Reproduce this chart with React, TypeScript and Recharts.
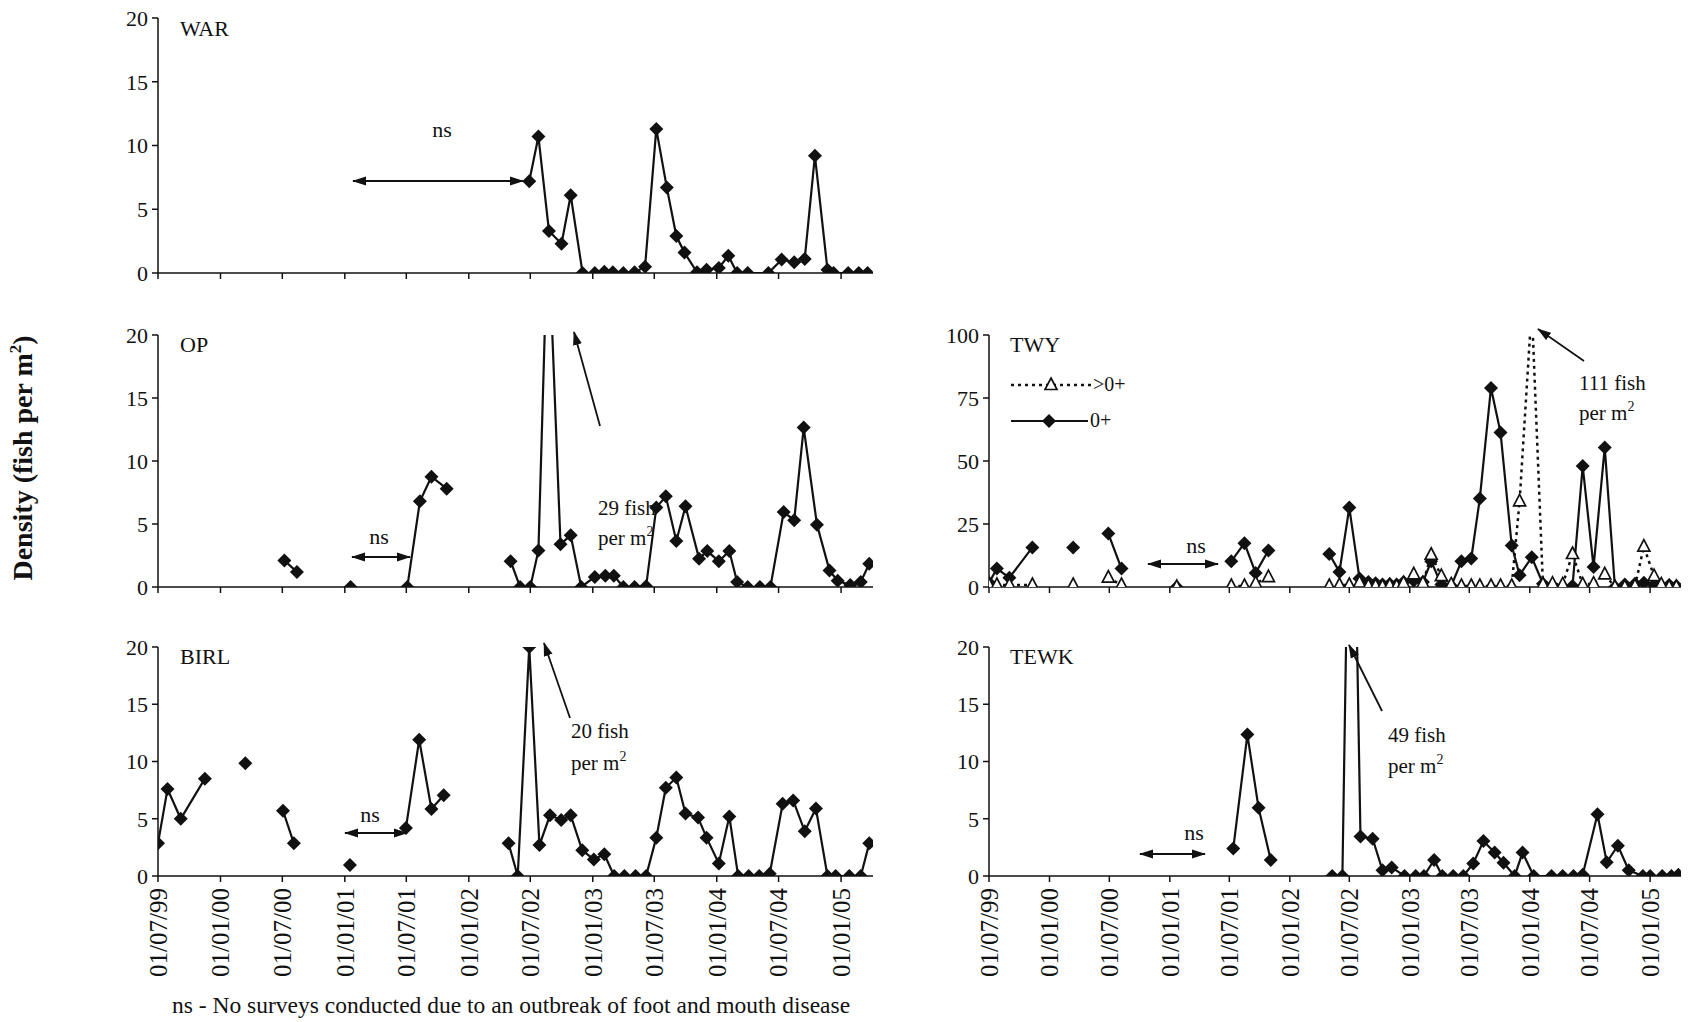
import React from 'react'
import { Line, LineChart, XAxis, YAxis } from 'recharts'

const FONT = 'Liberation Serif'
const DAY = 86400000
const toX = (d: string) => Date.parse(d) / DAY

const X_START = '1999-07-01'
const X_END = '2005-04-05'
const tickDates = [
  '1999-07-01', '2000-01-01', '2000-07-01', '2001-01-01', '2001-07-01', '2002-01-01',
  '2002-07-01', '2003-01-01', '2003-07-01', '2004-01-01', '2004-07-01', '2005-01-01',
]
const tickLabels = [
  '01/07/99', '01/01/00', '01/07/00', '01/01/01', '01/07/01', '01/01/02',
  '01/07/02', '01/01/03', '01/07/03', '01/01/04', '01/07/04', '01/01/05',
]
const smallTicks = [0, 5, 10, 15, 20]
const twyTicks = [0, 25, 50, 75, 100]

// null in a dates/values array = gap in the survey line
const warDates = [
  '2002-06-28', '2002-07-25', '2002-08-25', '2002-10-01', '2002-10-28', '2002-12-02', '2003-01-07',
  '2003-02-04', '2003-03-01', '2003-04-01', '2003-05-04', '2003-06-04', '2003-07-07', '2003-08-07',
  '2003-09-04', '2003-09-28', '2003-11-04', '2003-12-02', '2004-01-07', '2004-02-04', '2004-03-01',
  '2004-04-01', '2004-06-01', '2004-07-10', '2004-08-16', '2004-09-16', '2004-10-16', '2004-11-22',
  '2004-12-10', '2005-01-22', '2005-02-22', '2005-03-20',
]
const warValues = [
  7.2, 10.7, 3.3, 2.3, 6.1, 0, 0, 0.1, 0.05, 0, 0.05, 0.5, 11.3, 6.7, 2.9, 1.6, 0.05, 0.25, 0.4, 1.35,
  0, 0, 0, 1.05, 0.85, 1.1, 9.2, 0.25, 0, 0, 0, 0,
]

const opDates = [
  '2000-07-07', '2000-08-13', null, '2001-01-18', null, '2001-07-04', '2001-08-10', '2001-09-13',
  '2001-10-28', null, '2002-05-04', '2002-06-01', '2002-07-01', '2002-07-25', '2002-08-22', '2002-09-28',
  '2002-10-28', '2002-11-28', '2003-01-07', '2003-02-07', '2003-03-04', '2003-04-01', '2003-05-04',
  '2003-06-07', '2003-07-07', '2003-08-04', '2003-09-04', '2003-10-01', '2003-11-10', '2003-12-04',
  '2004-01-07', '2004-02-07', '2004-03-01', '2004-04-01', '2004-05-07', '2004-06-07', '2004-07-16',
  '2004-08-16', '2004-09-13', '2004-10-22', '2004-11-28', '2004-12-22', '2005-01-28', '2005-02-28',
  '2005-03-25',
]
const opValues = [
  2.1, 1.2, null, 0, null, 0, 6.8, 8.75, 7.8, null, 2.05, 0, 0, 2.9, 29, 3.4, 4.1, 0, 0.8, 0.9, 0.9, 0, 0,
  0.05, 6.3, 7.2, 3.65, 6.4, 2.25, 2.85, 2.05, 2.85, 0.4, 0, 0, 0, 5.95, 5.3, 12.65, 4.95, 1.3, 0.5, 0.15,
  0.4, 1.85,
]

const birlDates = [
  '1999-07-01', '1999-07-29', '1999-09-06', '1999-11-16', null, '2000-03-14', null, '2000-07-03',
  '2000-08-04', null, '2001-01-16', null, '2001-06-30', '2001-08-08', '2001-09-13', '2001-10-19', null,
  '2002-04-28', '2002-05-25', '2002-06-28', '2002-07-28', '2002-08-28', '2002-09-30', '2002-10-28',
  '2002-12-01', '2003-01-04', '2003-02-04', '2003-03-05', '2003-04-04', '2003-05-07', '2003-06-07',
  '2003-07-07', '2003-08-04', '2003-09-04', '2003-10-01', '2003-11-07', '2003-12-02', '2004-01-07',
  '2004-02-07', '2004-03-04', '2004-04-04', '2004-05-05', '2004-06-05', '2004-07-13', '2004-08-13',
  '2004-09-16', '2004-10-19', '2004-11-22', '2004-12-16', '2005-01-25', '2005-02-28', '2005-03-25',
]
const birlValues = [
  2.85, 7.6, 5.0, 8.5, null, 9.85, null, 5.7, 2.85, null, 0.95, null, 4.2, 11.9, 5.85, 7.05, null, 2.85, 0,
  20, 2.7, 5.3, 4.9, 5.3, 2.25, 1.45, 1.9, 0, 0, 0, 0, 3.35, 7.7, 8.6, 5.45, 5.1, 3.35, 1.1, 5.2, 0, 0, 0,
  0.2, 6.3, 6.6, 3.9, 5.9, 0, 0, 0, 0, 2.85,
]

const tewkDates = [
  '2001-07-13', '2001-08-25', '2001-09-28', '2001-11-04', null, '2002-05-10', '2002-06-10', '2002-07-07',
  '2002-08-04', '2002-09-10', '2002-10-10', '2002-11-07', '2002-12-16', '2003-01-19', '2003-02-13',
  '2003-03-16', '2003-04-10', '2003-05-13', '2003-06-13', '2003-07-13', '2003-08-13', '2003-09-16',
  '2003-10-13', '2003-11-16', '2003-12-10', '2004-01-13', '2004-03-07', '2004-04-10', '2004-05-13',
  '2004-06-10', '2004-07-25', '2004-08-22', '2004-09-25', '2004-10-28', '2004-12-10', '2005-01-01',
  '2005-02-07', '2005-03-07', '2005-03-28',
]
const tewkValues = [
  2.4, 12.35, 5.95, 1.4, null, 0, 0, 49, 3.45, 3.25, 0.5, 0.75, 0, 0, 0, 1.4, 0, 0, 0, 1.1, 3.05, 2.05,
  1.15, 0, 2.05, 0, 0, 0, 0, 0.1, 5.4, 1.2, 2.65, 0.5, 0, 0, 0, 0, 0.1,
]

const twyDates = [
  '1999-07-01', '1999-07-25', '1999-09-01', '1999-11-10', null, '2000-03-13', null, '2000-06-28',
  '2000-08-07', null, '2001-01-22', null, '2001-07-07', '2001-08-16', '2001-09-19', '2001-10-28', null,
  '2002-05-01', '2002-06-01', '2002-07-01', '2002-08-01', '2002-08-28', '2002-09-19', '2002-10-10',
  '2002-11-01', '2002-11-22', '2002-12-13', '2003-01-13', '2003-02-10', '2003-03-07', '2003-04-07',
  '2003-05-07', '2003-06-07', '2003-07-07', '2003-08-02', '2003-09-05', '2003-10-04', '2003-11-07',
  '2003-12-01', '2004-01-07', '2004-02-10', '2004-03-10', '2004-04-10', '2004-05-10', '2004-06-10',
  '2004-07-13', '2004-08-16', '2004-09-16', '2004-10-16', '2004-11-16', '2004-12-13', '2005-01-13',
  '2005-02-04', '2005-02-28', '2005-03-22',
]
const twyJuvenile = [
  1.7, 7.3, 3.7, 15.7, null, 15.7, null, 21.2, 7.3, null, 0, null, 10.2, 17.4, 5.6, 14.5, null, 13.1, 6.0,
  31.5, 3.4, 2.0, 1.5, 1.0, 1.2, 1.0, 2.0, 2.5, 2.0, 10.2, 1.0, 0.4, 10.2, 11.3, 35.1, 79, 61.3, 16.5, 4.7,
  11.8, 1.3, 0.4, 0, 0.4, 48, 7.9, 55.4, 0, 1.0, 1.3, 1.7, 0.8, 0, 0.8, 0.4,
]
const twyOlder = [
  0.8, 0.8, 0.8, 0.8, null, 0.8, null, 3.7, 0.8, null, 0, null, 0.4, 0.4, 1.5, 3.9, null, 0.4, 0.8, 0.8,
  1.7, 0.5, 0.4, 0.2, 0.6, 0.3, 1.5, 5.0, 1.5, 12.8, 4.3, 1.0, 0.4, 0.4, 0.4, 0.4, 0.4, 0.4, 34, 111, 1.0,
  1.3, 1.0, 13.1, 1.0, 1.3, 5.0, 0, 0, 0.4, 16, 4.3, 1.0, 0, 0,
]

function toXs(dates: (string | null)[]) {
  let prev = toX(X_START)
  return dates.map((d) => {
    if (d) prev = toX(d)
    return prev
  })
}

function rows(dates: (string | null)[], values: (number | null)[]) {
  const xs = toXs(dates)
  return xs.map((x, i) => ({ x, v: values[i] }))
}

const twyRows = toXs(twyDates).map((x, i) => ({ x, juv: twyJuvenile[i], older: twyOlder[i] }))

const Diamond = (p: any) => {
  if (p.cy == null || p.value == null) return <g key={`d${p.index}`} />
  const { cx, cy } = p
  return (
    <polygon
      key={`d${p.index}`}
      points={`${cx},${cy - 7} ${cx + 7},${cy} ${cx},${cy + 7} ${cx - 7},${cy}`}
      fill="#111"
    />
  )
}

const Triangle = (p: any) => {
  if (p.cy == null || p.value == null) return <g key={`t${p.index}`} />
  const { cx, cy } = p
  return (
    <polygon
      key={`t${p.index}`}
      points={`${cx},${cy - 7} ${cx + 6},${cy + 4.5} ${cx - 6},${cy + 4.5}`}
      fill="#fff"
      stroke="#111"
      strokeWidth={1.7}
    />
  )
}

const DateTick = (p: any) => {
  const { x, y, index } = p
  return (
    <text
      x={x}
      y={y}
      transform={`rotate(-90 ${x} ${y})`}
      dx={-3}
      dy="0.35em"
      textAnchor="end"
      style={{ fontFamily: FONT }}
      fontSize={25}
      fill="#111"
    >
      {tickLabels[index]}
    </text>
  )
}

const NoTick = () => <g />

interface PanelProps {
  plotLeft: number
  plotTop: number
  plotW: number
  plotH: number
  yMax: number
  yTicks: number[]
  labels: boolean
  data: any[]
  children: React.ReactNode
}

const TOPPAD = 18

function Panel({ plotLeft, plotTop, plotW, plotH, yMax, yTicks, labels, data, children }: PanelProps) {
  const yw = 70
  const xh = labels ? 110 : 12
  return (
    <div style={{ position: 'absolute', left: plotLeft - yw, top: plotTop - TOPPAD }}>
      <LineChart
        width={yw + plotW + 10}
        height={TOPPAD + plotH + xh}
        data={data}
        margin={{ top: TOPPAD, right: 10, left: 0, bottom: 0 }}
      >
        <XAxis
          type="number"
          dataKey="x"
          domain={[toX(X_START), toX(X_END)]}
          ticks={tickDates.map(toX)}
          allowDataOverflow
          height={xh}
          interval={0}
          tick={labels ? DateTick : NoTick}
          tickSize={6}
          tickMargin={3}
          axisLine={{ stroke: '#111', strokeWidth: 1.5 }}
          tickLine={{ stroke: '#111', strokeWidth: 1.5 }}
        />
        <YAxis
          type="number"
          domain={[0, yMax]}
          ticks={yTicks}
          allowDataOverflow
          width={yw}
          interval={0}
          tickSize={6}
          tickMargin={4}
          tick={{ fill: '#111', fontSize: 22, style: { fontFamily: FONT } }}
          axisLine={{ stroke: '#111', strokeWidth: 1.5 }}
          tickLine={{ stroke: '#111', strokeWidth: 1.5 }}
        />
        {children}
      </LineChart>
    </div>
  )
}

const solid = (key: string) => (
  <Line
    dataKey={key}
    stroke="#111"
    strokeWidth={2.2}
    dot={Diamond}
    activeDot={false}
    isAnimationActive={false}
    connectNulls={false}
  />
)

const LEFT = 158
const RIGHT = 989
const LW = 715
const RW = 692

function Overlay() {
  const t = { fontSize: 21, fill: '#111', style: { fontFamily: FONT } }
  const arrow = (x1: number, y1: number, x2: number, y2: number, both = true) => (
    <line
      x1={x1}
      y1={y1}
      x2={x2}
      y2={y2}
      stroke="#111"
      strokeWidth={1.8}
      markerEnd="url(#ah)"
      markerStart={both ? 'url(#ah)' : undefined}
    />
  )
  const perM = (x: number, y: number) => (
    <text x={x} y={y} {...t}>
      per m<tspan dy={-9} fontSize={14}>2</tspan>
    </text>
  )
  return (
    <svg
      width={1690}
      height={1022}
      style={{ position: 'absolute', left: 0, top: 0, pointerEvents: 'none' }}
    >
      <defs>
        <marker
          id="ah"
          markerWidth={14}
          markerHeight={10}
          refX={13}
          refY={5}
          orient="auto-start-reverse"
          markerUnits="userSpaceOnUse"
        >
          <path d="M0,0.5 L14,5 L0,9.5 z" fill="#111" />
        </marker>
      </defs>

      <text x={32} y={458} {...t} fontSize={28} fontWeight="bold" textAnchor="middle" transform="rotate(-90 32 458)">
        Density (fish per m<tspan dy={-11} fontSize={17}>2</tspan>
        <tspan dy={11}>)</tspan>
      </text>

      <text x={180} y={36} {...t} fontSize={22}>WAR</text>
      <text x={180} y={352} {...t} fontSize={22}>OP</text>
      <text x={180} y={664} {...t} fontSize={22}>BIRL</text>
      <text x={1010} y={352} {...t} fontSize={22}>TWY</text>
      <text x={1010} y={664} {...t} fontSize={22}>TEWK</text>

      <text x={442} y={137} {...t} fontSize={22} textAnchor="middle">ns</text>
      {arrow(353, 181, 523, 181)}

      <text x={379} y={544} {...t} fontSize={22} textAnchor="middle">ns</text>
      {arrow(352, 557, 410, 557)}
      <text x={598} y={515} {...t}>29 fish</text>
      {perM(598, 545)}
      {arrow(600, 426, 574, 332, false)}

      <text x={370} y={822} {...t} fontSize={22} textAnchor="middle">ns</text>
      {arrow(345, 833, 407, 833)}
      <text x={571} y={738} {...t}>20 fish</text>
      {perM(571, 770)}
      {arrow(570, 718, 544, 643, false)}

      <line x1={1011} y1={385} x2={1092} y2={385} stroke="#111" strokeWidth={2.5} strokeDasharray="3 4" />
      <polygon points="1051,378 1057,389.5 1045,389.5" fill="#fff" stroke="#111" strokeWidth={1.7} />
      <text x={1093} y={391} {...t} fontSize={20}>&gt;0+</text>
      <line x1={1011} y1={421} x2={1088} y2={421} stroke="#111" strokeWidth={2.2} />
      <polygon points="1049,414 1056,421 1049,428 1042,421" fill="#111" />
      <text x={1090} y={427} {...t} fontSize={20}>0+</text>

      <text x={1196} y={553} {...t} fontSize={22} textAnchor="middle">ns</text>
      {arrow(1148, 564, 1218, 564)}
      <text x={1579} y={390} {...t}>111 fish</text>
      {perM(1579, 420)}
      {arrow(1584, 361, 1538, 329, false)}

      <text x={1194} y={840} {...t} fontSize={22} textAnchor="middle">ns</text>
      {arrow(1140, 854, 1205, 854)}
      <text x={1388} y={742} {...t}>49 fish</text>
      {perM(1388, 773)}
      {arrow(1382, 711, 1349, 645, false)}

      <text x={172} y={1013} {...t} fontSize={23.5}>
        ns - No surveys conducted due to an outbreak of foot and mouth disease
      </text>
    </svg>
  )
}

export default function App() {
  return (
    <div style={{ position: 'absolute', left: 0, top: 0, width: 1690, height: 1022, background: '#fff', fontFamily: FONT }}>
      <Panel plotLeft={LEFT} plotTop={18} plotW={LW} plotH={255} yMax={20} yTicks={smallTicks} labels={false} data={rows(warDates, warValues)}>
        {solid('v')}
      </Panel>
      <Panel plotLeft={LEFT} plotTop={335} plotW={LW} plotH={252} yMax={20} yTicks={smallTicks} labels={false} data={rows(opDates, opValues)}>
        {solid('v')}
      </Panel>
      <Panel plotLeft={LEFT} plotTop={647} plotW={LW} plotH={229} yMax={20} yTicks={smallTicks} labels data={rows(birlDates, birlValues)}>
        {solid('v')}
      </Panel>
      <Panel plotLeft={RIGHT} plotTop={335} plotW={RW} plotH={252} yMax={100} yTicks={twyTicks} labels={false} data={twyRows}>
        {solid('juv')}
        <Line
          dataKey="older"
          stroke="#111"
          strokeWidth={2.5}
          strokeDasharray="3 4"
          dot={Triangle}
          activeDot={false}
          isAnimationActive={false}
          connectNulls={false}
        />
      </Panel>
      <Panel plotLeft={RIGHT} plotTop={647} plotW={RW} plotH={229} yMax={20} yTicks={smallTicks} labels data={rows(tewkDates, tewkValues)}>
        {solid('v')}
      </Panel>
      <Overlay />
    </div>
  )
}
